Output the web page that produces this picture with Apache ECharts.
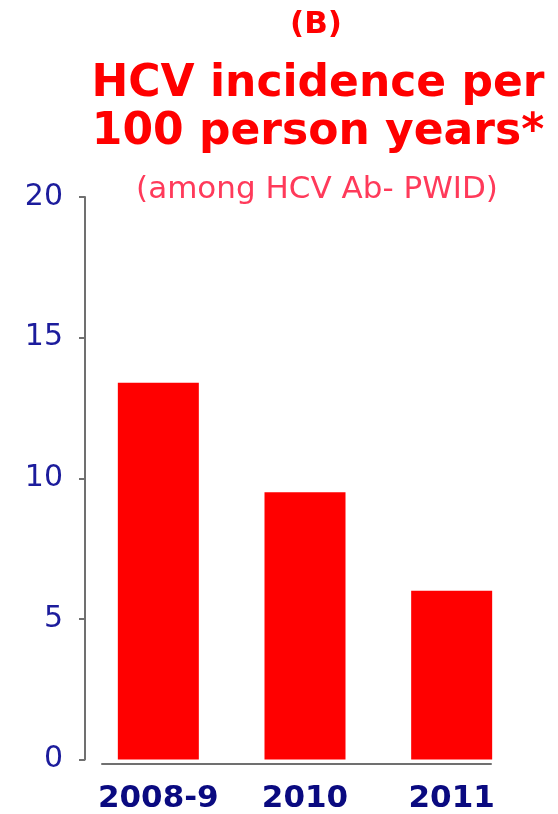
<!DOCTYPE html>
<html>
<head>
<meta charset="utf-8">
<script src="https://cdn.jsdelivr.net/npm/echarts@6/dist/echarts.min.js"></script>
<style>
  html, body { margin: 0; padding: 0; background: #fff; }
  #chart { width: 558px; height: 814px; }
</style>
</head>
<body>
<div id="chart"></div>
<script>
// data
const periods = ['2008-9', '2010', '2011']
const incidence = [13.4, 9.5, 6.0]
const yTicks = [0, 5, 10, 15, 20]

const panelLabel = '(B)'
const titleLines = ['HCV incidence per', '100 person years*']
const subtitle = '(among HCV Ab- PWID)'

const chart = echarts.init(document.getElementById('chart'))

chart.setOption({
  animation: false,
  backgroundColor: '#ffffff',
  graphic: [
    {
      type: 'text',
      x: 316,
      y: 25,
      style: {
        text: panelLabel,
        fill: '#ff0000',
        font: 'bold 31px "DejaVu Sans"',
        align: 'center',
        verticalAlign: 'middle'
      }
    },
    {
      type: 'text',
      x: 318,
      y: 109,
      style: {
        text: titleLines.join('\n'),
        fill: '#ff0000',
        font: 'bold 44px "DejaVu Sans"',
        lineHeight: 48,
        align: 'center',
        verticalAlign: 'middle'
      }
    },
    {
      type: 'text',
      x: 317,
      y: 190,
      style: {
        text: subtitle,
        fill: '#ff3a5a',
        font: '31px "DejaVu Sans"',
        align: 'center',
        verticalAlign: 'middle'
      }
    }
  ],
  grid: [
    { left: 85, right: 33, top: 197, bottom: 52 },
    { left: 102, right: 67, top: 197, bottom: 50 }
  ],
  xAxis: [
    {
      gridIndex: 0,
      type: 'category',
      data: periods,
      axisLine: { show: false },
      axisTick: { show: false },
      axisLabel: {
        interval: 0,
        hideOverlap: false,
        color: '#0a0a80',
        fontFamily: 'DejaVu Sans',
        fontWeight: 'bold',
        fontSize: 31,
        margin: 39,
        verticalAlign: 'middle'
      }
    },
    {
      gridIndex: 1,
      type: 'category',
      data: periods,
      axisLine: { show: true, lineStyle: { color: '#707070', width: 2 } },
      axisTick: { show: false },
      axisLabel: { show: false }
    }
  ],
  yAxis: [
    {
      gridIndex: 0,
      type: 'value',
      min: yTicks[0],
      max: yTicks[yTicks.length - 1],
      interval: 5,
      splitLine: { show: false },
      axisLine: { show: true, lineStyle: { color: '#707070', width: 2 } },
      axisTick: { show: true, inside: false, length: 6, lineStyle: { color: '#707070', width: 2 } },
      axisLabel: {
        color: '#1c1c9c',
        fontFamily: 'DejaVu Sans',
        fontSize: 30,
        margin: 22,
        verticalAlign: 'middle',
        padding: [0, 0, 13, 0]
      }
    },
    {
      gridIndex: 1,
      type: 'value',
      min: 0,
      max: 20,
      show: false
    }
  ],
  series: [
    {
      type: 'bar',
      xAxisIndex: 0,
      yAxisIndex: 0,
      data: incidence,
      barWidth: 81,
      itemStyle: { color: '#ff0000' }
    }
  ]
})
</script>
</body>
</html>
